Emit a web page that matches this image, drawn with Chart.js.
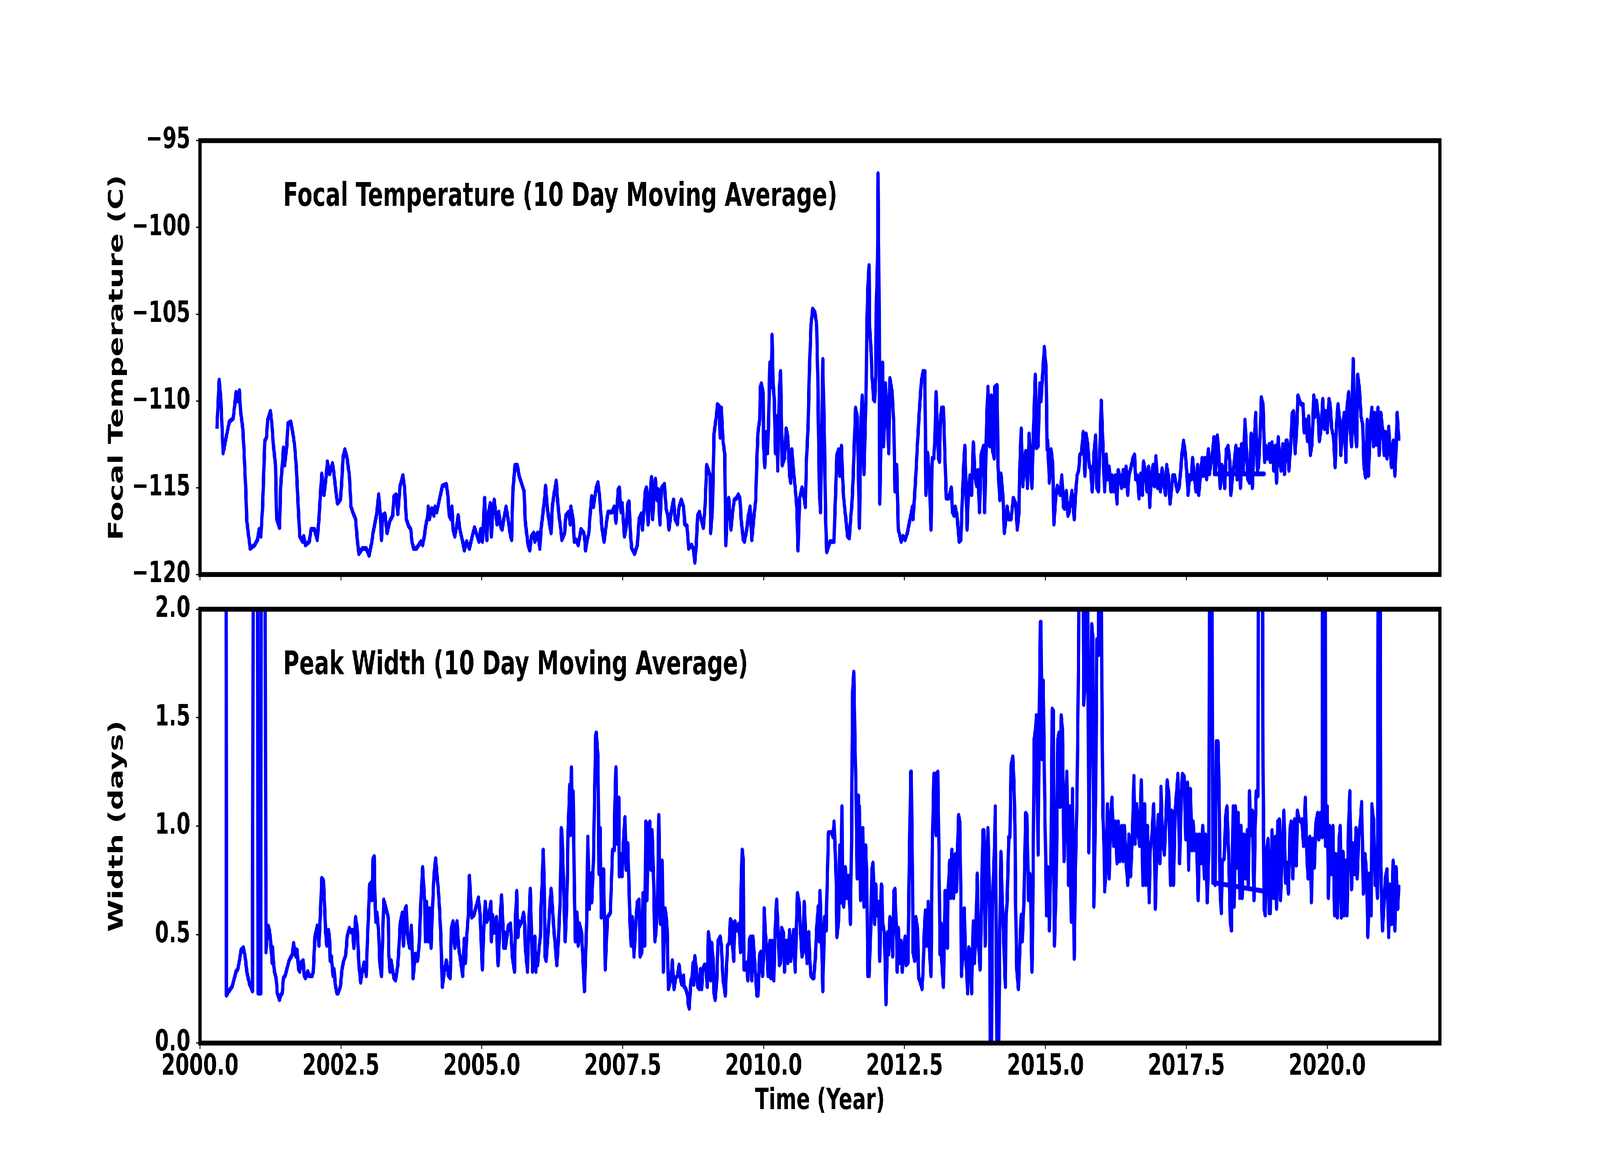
<!DOCTYPE html>
<html>
<head>
<meta charset="utf-8">
<script src="https://cdn.jsdelivr.net/npm/chart.js@4.4.0/dist/chart.umd.min.js"></script>
<style>
html, body { margin: 0; padding: 0; background: #fff; overflow: hidden; width: 100%; height: 100%; }
#wrap { position: absolute; left: 0; top: 0; width: 6000px; height: 3000px; transform-origin: 0 0; }
#wrap canvas { position: absolute; left: 0; top: 0; }
</style>
</head>
<body>
<div id="wrap">
<canvas id="topPanel" width="6000" height="3000"></canvas>
<canvas id="bottomPanel" width="6000" height="3000"></canvas>
</div>
<script>
// the figure is laid out on a 6000x3000 sheet; stretch it over the real viewport
var sx = window.innerWidth / 6000, sy = window.innerHeight / 3000;
document.getElementById('wrap').style.transform = 'scale(' + sx + ',' + sy + ')';

// x axis ticks (shared)
var xTicks = [2000, 2002.5, 2005, 2007.5, 2010, 2012.5, 2015, 2017.5, 2020];
var xTickLabels = ['2000.0', '2002.5', '2005.0', '2007.5', '2010.0', '2012.5', '2015.0', '2017.5', '2020.0'];

var tempTicks = [-120, -115, -110, -105, -100, -95];
var tempTickLabels = ['\u2212120', '\u2212115', '\u2212110', '\u2212105', '\u2212100', '\u221295'];

var widthTicks = [0, 0.5, 1.0, 1.5, 2.0];
var widthTickLabels = ['0.0', '0.5', '1.0', '1.5', '2.0'];

// focal temperature, [year, C]
var focalTemp = [
[2000.30,-111.6],[2000.34,-108.8],[2000.37,-109.9],[2000.41,-113.0],[2000.47,-112.0],[2000.52,-111.2],[2000.59,-111.0],[2000.64,-109.5],[2000.67,-110.0],[2000.70,-109.4],
[2000.72,-110.6],[2000.76,-111.6],[2000.78,-112.8],[2000.81,-115.0],[2000.83,-116.9],[2000.89,-118.5],[2000.97,-118.3],[2001.02,-118.0],[2001.05,-117.4],[2001.08,-117.8],
[2001.11,-116.1],[2001.15,-112.3],[2001.18,-112.1],[2001.20,-111.1],[2001.25,-110.6],[2001.28,-111.5],[2001.30,-112.5],[2001.34,-113.7],[2001.36,-116.8],[2001.41,-117.3],
[2001.43,-115.0],[2001.46,-113.7],[2001.48,-112.7],[2001.50,-113.7],[2001.54,-112.6],[2001.56,-111.3],[2001.61,-111.2],[2001.65,-111.9],[2001.68,-112.6],[2001.71,-113.9],
[2001.74,-115.9],[2001.77,-117.8],[2001.82,-118.1],[2001.84,-117.8],[2001.87,-118.3],[2001.94,-118.1],[2001.97,-117.4],[2002.03,-117.4],[2002.08,-118.0],[2002.11,-116.8],
[2002.16,-114.2],[2002.20,-115.4],[2002.24,-114.3],[2002.26,-113.5],[2002.30,-114.2],[2002.35,-113.6],[2002.37,-114.0],[2002.41,-115.2],[2002.44,-115.9],[2002.49,-115.7],
[2002.51,-114.9],[2002.54,-113.2],[2002.57,-112.8],[2002.61,-113.3],[2002.65,-114.3],[2002.68,-116.1],[2002.71,-116.4],[2002.76,-116.8],[2002.79,-118.0],[2002.82,-118.8],
[2002.88,-118.5],[2002.95,-118.5],[2003.00,-118.9],[2003.05,-118.1],[2003.07,-117.6],[2003.10,-117.1],[2003.13,-116.6],[2003.17,-115.4],[2003.20,-116.6],[2003.22,-118.0],
[2003.24,-116.6],[2003.28,-116.5],[2003.32,-117.6],[2003.37,-116.9],[2003.42,-116.6],[2003.44,-115.5],[2003.48,-115.4],[2003.51,-116.5],[2003.55,-114.9],[2003.60,-114.3],
[2003.63,-115.0],[2003.66,-116.8],[2003.70,-117.2],[2003.74,-117.4],[2003.76,-118.1],[2003.79,-118.5],[2003.84,-118.5],[2003.92,-118.1],[2003.95,-118.3],[2003.98,-117.8],
[2004.00,-117.3],[2004.04,-116.6],[2004.05,-116.1],[2004.07,-116.8],[2004.11,-116.2],[2004.15,-116.6],[2004.17,-116.1],[2004.20,-116.4],[2004.30,-114.9],[2004.37,-114.8],
[2004.40,-115.5],[2004.42,-116.6],[2004.45,-116.8],[2004.47,-116.1],[2004.49,-117.4],[2004.52,-117.8],[2004.55,-117.3],[2004.58,-116.6],[2004.61,-117.4],[2004.66,-118.1],
[2004.69,-118.6],[2004.73,-118.1],[2004.78,-118.5],[2004.83,-117.8],[2004.87,-117.3],[2004.90,-117.6],[2004.95,-118.1],[2004.98,-117.4],[2005.01,-118.1],[2005.05,-115.6],
[2005.07,-117.3],[2005.09,-118.0],[2005.11,-116.6],[2005.15,-115.9],[2005.17,-117.8],[2005.19,-116.6],[2005.22,-115.7],[2005.27,-117.1],[2005.30,-116.4],[2005.34,-117.3],
[2005.36,-117.4],[2005.39,-116.8],[2005.43,-116.1],[2005.48,-117.1],[2005.51,-117.8],[2005.53,-118.0],[2005.55,-115.2],[2005.59,-113.7],[2005.63,-113.7],[2005.66,-114.3],
[2005.75,-115.2],[2005.77,-116.9],[2005.82,-118.3],[2005.85,-118.6],[2005.88,-117.8],[2005.92,-117.6],[2005.94,-118.1],[2005.99,-117.6],[2006.03,-118.5],[2006.05,-117.4],
[2006.08,-116.6],[2006.12,-115.4],[2006.13,-114.9],[2006.16,-116.1],[2006.20,-117.1],[2006.23,-117.6],[2006.25,-116.1],[2006.28,-115.4],[2006.32,-114.6],[2006.34,-115.6],
[2006.37,-116.6],[2006.40,-117.4],[2006.42,-118.0],[2006.47,-117.6],[2006.49,-116.6],[2006.54,-116.4],[2006.57,-117.1],[2006.58,-116.1],[2006.62,-116.8],[2006.64,-118.1],
[2006.67,-118.0],[2006.71,-118.3],[2006.76,-117.4],[2006.81,-117.6],[2006.83,-118.1],[2006.84,-118.6],[2006.87,-118.0],[2006.90,-117.6],[2006.92,-116.6],[2006.95,-115.5],
[2006.98,-116.1],[2007.03,-115.0],[2007.06,-114.7],[2007.09,-115.5],[2007.13,-117.3],[2007.17,-118.1],[2007.19,-117.6],[2007.22,-116.8],[2007.24,-116.4],[2007.31,-116.4],
[2007.35,-116.1],[2007.38,-117.0],[2007.42,-115.1],[2007.44,-115.0],[2007.47,-116.4],[2007.49,-115.9],[2007.53,-117.8],[2007.56,-117.3],[2007.59,-115.9],[2007.61,-115.8],
[2007.64,-117.8],[2007.66,-118.5],[2007.71,-118.8],[2007.76,-118.3],[2007.79,-116.8],[2007.83,-116.5],[2007.85,-117.4],[2007.90,-115.2],[2007.92,-115.0],[2007.95,-117.1],
[2007.98,-115.6],[2008.01,-114.4],[2008.03,-116.8],[2008.06,-115.2],[2008.08,-114.5],[2008.11,-115.7],[2008.13,-115.1],[2008.16,-117.1],[2008.19,-115.0],[2008.24,-114.8],
[2008.27,-116.2],[2008.30,-116.6],[2008.32,-117.4],[2008.36,-116.4],[2008.40,-115.7],[2008.43,-116.8],[2008.47,-117.1],[2008.50,-116.1],[2008.54,-115.7],[2008.58,-116.1],
[2008.60,-117.1],[2008.64,-117.2],[2008.67,-118.5],[2008.72,-118.3],[2008.75,-118.5],[2008.78,-119.3],[2008.80,-118.5],[2008.83,-116.6],[2008.86,-116.4],[2008.89,-116.8],
[2008.93,-117.3],[2008.96,-116.1],[2008.99,-113.7],[2009.02,-114.0],[2009.05,-114.3],[2009.06,-117.6],[2009.09,-116.4],[2009.12,-111.9],[2009.16,-110.9],[2009.18,-110.2],
[2009.21,-110.3],[2009.23,-112.1],[2009.25,-110.4],[2009.28,-112.3],[2009.31,-113.1],[2009.33,-118.3],[2009.36,-115.9],[2009.38,-115.6],[2009.42,-117.4],[2009.45,-116.4],
[2009.48,-115.7],[2009.52,-115.6],[2009.55,-115.4],[2009.58,-115.6],[2009.60,-116.8],[2009.64,-118.0],[2009.66,-118.1],[2009.70,-117.4],[2009.73,-116.6],[2009.76,-116.1],
[2009.79,-118.0],[2009.83,-116.6],[2009.86,-115.7],[2009.88,-113.3],[2009.90,-111.8],[2009.93,-111.1],[2009.94,-109.2],[2009.96,-109.0],[2009.99,-109.5],[2010.00,-112.6],
[2010.02,-113.8],[2010.05,-111.8],[2010.07,-113.0],[2010.09,-110.9],[2010.11,-107.8],[2010.13,-109.2],[2010.15,-106.2],[2010.17,-109.1],[2010.19,-110.0],[2010.21,-113.0],
[2010.23,-110.9],[2010.25,-114.0],[2010.27,-110.7],[2010.28,-109.3],[2010.30,-108.3],[2010.33,-113.7],[2010.37,-113.3],[2010.40,-111.6],[2010.43,-112.1],[2010.46,-114.3],
[2010.48,-114.7],[2010.50,-112.8],[2010.53,-114.0],[2010.56,-115.0],[2010.59,-116.2],[2010.61,-118.6],[2010.64,-115.6],[2010.68,-115.0],[2010.71,-115.4],[2010.74,-116.1],
[2010.76,-113.4],[2010.79,-111.3],[2010.81,-108.5],[2010.84,-105.6],[2010.87,-104.7],[2010.91,-104.9],[2010.94,-105.6],[2010.96,-108.5],[2010.97,-111.1],[2010.99,-115.2],
[2011.01,-116.4],[2011.03,-111.6],[2011.05,-107.6],[2011.08,-112.6],[2011.10,-116.8],[2011.12,-118.7],[2011.18,-118.1],[2011.25,-118.1],[2011.26,-116.8],[2011.28,-115.0],
[2011.30,-113.1],[2011.33,-112.8],[2011.35,-114.3],[2011.38,-112.6],[2011.40,-114.3],[2011.42,-115.6],[2011.49,-117.8],[2011.52,-117.9],[2011.57,-115.7],[2011.59,-114.3],
[2011.63,-110.4],[2011.66,-110.9],[2011.68,-113.8],[2011.70,-117.3],[2011.73,-110.9],[2011.75,-109.7],[2011.78,-114.2],[2011.80,-111.8],[2011.82,-109.2],[2011.83,-105.7],
[2011.85,-103.4],[2011.87,-102.2],[2011.88,-105.7],[2011.91,-107.3],[2011.92,-108.5],[2011.94,-109.3],[2011.95,-109.9],[2011.97,-110.0],[2011.99,-108.5],[2012.00,-104.3],
[2012.02,-101.8],[2012.03,-96.9],[2012.05,-104.7],[2012.06,-115.9],[2012.08,-112.6],[2012.11,-107.8],[2012.13,-112.6],[2012.16,-109.0],[2012.19,-110.9],[2012.22,-113.0],
[2012.24,-108.7],[2012.28,-109.5],[2012.31,-111.4],[2012.33,-115.2],[2012.36,-113.7],[2012.39,-117.4],[2012.44,-118.1],[2012.47,-117.8],[2012.51,-118.0],[2012.55,-117.6],
[2012.58,-117.1],[2012.61,-116.6],[2012.64,-116.1],[2012.65,-116.8],[2012.68,-115.4],[2012.70,-114.3],[2012.73,-112.4],[2012.76,-110.7],[2012.80,-108.8],[2012.83,-108.3],
[2012.86,-108.3],[2012.88,-115.4],[2012.91,-113.0],[2012.94,-114.3],[2012.97,-117.4],[2012.99,-113.3],[2013.02,-113.3],[2013.04,-112.1],[2013.06,-109.5],[2013.10,-113.3],
[2013.12,-113.5],[2013.14,-110.9],[2013.16,-110.4],[2013.19,-110.4],[2013.22,-113.5],[2013.24,-115.6],[2013.28,-115.6],[2013.33,-115.0],[2013.35,-116.4],[2013.38,-116.6],
[2013.40,-116.1],[2013.43,-116.6],[2013.47,-118.1],[2013.50,-118.0],[2013.52,-116.1],[2013.55,-113.7],[2013.57,-112.6],[2013.61,-117.4],[2013.63,-115.6],[2013.66,-114.3],
[2013.69,-115.4],[2013.72,-112.4],[2013.75,-114.3],[2013.78,-114.9],[2013.80,-114.0],[2013.83,-116.4],[2013.86,-113.1],[2013.90,-112.6],[2013.92,-116.4],[2013.96,-110.9],
[2013.98,-109.2],[2014.01,-112.6],[2014.04,-109.7],[2014.06,-112.8],[2014.09,-113.3],[2014.10,-109.2],[2014.14,-109.1],[2014.16,-113.8],[2014.19,-115.7],[2014.21,-114.2],
[2014.25,-115.7],[2014.27,-117.6],[2014.30,-116.8],[2014.32,-116.1],[2014.35,-116.8],[2014.39,-116.8],[2014.43,-115.6],[2014.47,-115.9],[2014.50,-117.4],[2014.53,-116.4],
[2014.54,-114.5],[2014.57,-111.6],[2014.60,-114.9],[2014.63,-113.5],[2014.65,-112.9],[2014.68,-115.0],[2014.71,-111.9],[2014.73,-113.0],[2014.76,-115.0],[2014.79,-111.4],
[2014.82,-108.5],[2014.84,-112.7],[2014.87,-112.6],[2014.90,-109.0],[2014.92,-110.0],[2014.95,-108.5],[2014.98,-106.9],[2015.01,-108.1],[2015.03,-112.8],[2015.04,-112.3],
[2015.07,-114.7],[2015.10,-112.8],[2015.13,-113.7],[2015.15,-117.1],[2015.18,-115.7],[2015.21,-114.9],[2015.26,-115.4],[2015.29,-114.3],[2015.32,-116.1],[2015.34,-116.2],
[2015.37,-115.2],[2015.40,-116.6],[2015.42,-116.4],[2015.47,-115.2],[2015.51,-116.8],[2015.53,-115.6],[2015.56,-114.3],[2015.59,-114.0],[2015.61,-113.1],[2015.64,-113.0],
[2015.67,-111.8],[2015.70,-114.3],[2015.72,-111.9],[2015.75,-112.5],[2015.78,-113.8],[2015.80,-113.8],[2015.83,-115.2],[2015.86,-113.0],[2015.89,-112.0],[2015.91,-115.0],
[2015.94,-115.2],[2015.97,-112.3],[2015.99,-110.0],[2016.02,-112.6],[2016.05,-115.2],[2016.08,-113.1],[2016.10,-114.5],[2016.13,-113.8],[2016.16,-115.2],[2016.18,-114.3],
[2016.21,-115.2],[2016.24,-114.3],[2016.27,-115.9],[2016.29,-114.0],[2016.32,-114.3],[2016.35,-115.0],[2016.38,-114.0],[2016.40,-114.9],[2016.43,-113.8],[2016.46,-115.4],
[2016.48,-114.3],[2016.52,-113.8],[2016.55,-113.3],[2016.58,-113.1],[2016.60,-114.5],[2016.63,-114.3],[2016.66,-115.6],[2016.69,-114.2],[2016.72,-115.4],[2016.74,-113.5],
[2016.77,-114.0],[2016.80,-115.2],[2016.83,-113.8],[2016.85,-116.1],[2016.88,-114.3],[2016.91,-113.7],[2016.93,-114.9],[2016.96,-113.2],[2016.99,-115.0],[2017.02,-114.3],
[2017.04,-115.2],[2017.07,-113.9],[2017.10,-114.7],[2017.13,-115.4],[2017.15,-113.7],[2017.18,-114.3],[2017.21,-115.9],[2017.23,-115.3],[2017.26,-114.3],[2017.29,-114.3],
[2017.32,-114.9],[2017.34,-115.2],[2017.37,-115.0],[2017.40,-114.0],[2017.42,-113.1],[2017.45,-112.3],[2017.48,-113.0],[2017.51,-114.2],[2017.53,-115.4],[2017.56,-114.3],
[2017.59,-114.5],[2017.61,-113.3],[2017.64,-114.3],[2017.67,-115.2],[2017.70,-113.7],[2017.72,-115.4],[2017.75,-114.3],[2017.78,-113.3],[2017.80,-114.3],[2017.83,-113.3],
[2017.86,-114.5],[2017.89,-112.8],[2017.91,-114.2],[2017.94,-113.5],[2017.97,-112.8],[2017.99,-112.1],[2018.00,-114.2],[2018.88,-114.2],[2018.00,-114.2],[2018.02,-114.0],
[2018.05,-112.0],[2018.08,-113.3],[2018.10,-115.0],[2018.13,-113.7],[2018.16,-114.2],[2018.18,-115.0],[2018.21,-112.8],[2018.24,-112.6],[2018.27,-113.5],[2018.29,-115.4],
[2018.32,-114.3],[2018.35,-113.5],[2018.38,-112.6],[2018.40,-114.5],[2018.43,-112.8],[2018.46,-115.0],[2018.48,-112.5],[2018.51,-114.0],[2018.54,-111.1],[2018.57,-113.1],
[2018.59,-114.5],[2018.62,-114.7],[2018.65,-111.9],[2018.67,-115.0],[2018.70,-112.5],[2018.73,-110.7],[2018.76,-114.0],[2018.78,-113.8],[2018.81,-111.8],[2018.83,-109.8],
[2018.86,-110.2],[2018.89,-113.5],[2018.91,-112.6],[2018.94,-113.3],[2018.97,-112.5],[2018.99,-113.5],[2019.02,-112.4],[2019.05,-114.0],[2019.08,-112.6],[2019.10,-114.7],
[2019.13,-112.1],[2019.16,-113.5],[2019.18,-114.0],[2019.21,-112.5],[2019.24,-114.2],[2019.27,-112.3],[2019.29,-112.3],[2019.32,-114.0],[2019.35,-112.6],[2019.38,-110.7],
[2019.40,-110.6],[2019.43,-113.0],[2019.46,-111.4],[2019.48,-109.7],[2019.51,-110.0],[2019.54,-110.2],[2019.57,-110.2],[2019.59,-111.8],[2019.62,-111.1],[2019.65,-112.3],
[2019.67,-110.9],[2019.70,-113.1],[2019.73,-112.5],[2019.76,-109.7],[2019.78,-110.9],[2019.81,-110.0],[2019.84,-110.9],[2019.86,-112.3],[2019.89,-111.6],[2019.92,-109.9],
[2019.95,-111.6],[2019.97,-110.6],[2020.00,-111.8],[2020.03,-109.9],[2020.05,-110.2],[2020.08,-111.6],[2020.11,-112.1],[2020.14,-113.8],[2020.16,-111.6],[2020.19,-110.2],
[2020.22,-111.1],[2020.24,-113.1],[2020.27,-111.6],[2020.30,-110.7],[2020.33,-113.5],[2020.35,-110.4],[2020.38,-109.5],[2020.41,-111.8],[2020.43,-112.6],[2020.46,-107.6],
[2020.49,-111.6],[2020.52,-112.6],[2020.54,-108.5],[2020.57,-109.3],[2020.60,-110.9],[2020.63,-111.4],[2020.65,-113.7],[2020.68,-114.4],[2020.71,-111.1],[2020.73,-114.3],
[2020.76,-111.8],[2020.79,-110.4],[2020.82,-112.6],[2020.84,-110.7],[2020.87,-112.5],[2020.90,-110.4],[2020.92,-113.1],[2020.95,-110.7],[2020.98,-111.6],[2021.01,-113.1],
[2021.03,-111.8],[2021.06,-113.3],[2021.09,-111.5],[2021.11,-112.6],[2021.14,-113.8],[2021.17,-112.3],[2021.20,-114.3],[2021.22,-112.8],[2021.24,-110.7],[2021.27,-112.3]
];

// peak width, [year, days]
var peakWidth = [
[2000.46,3.0],[2000.47,0.22],[2000.49,0.23],[2000.54,0.25],[2000.57,0.26],[2000.60,0.29],[2000.64,0.33],[2000.67,0.34],[2000.70,0.38],[2000.73,0.43],
[2000.77,0.44],[2000.80,0.40],[2000.83,0.33],[2000.88,0.27],[2000.90,0.26],[2000.93,0.24],[2000.95,3.0],[2001.02,3.0],[2001.03,0.23],[2001.08,0.23],
[2001.09,3.0],[2001.15,3.0],[2001.17,0.42],[2001.21,0.54],[2001.23,0.52],[2001.25,0.48],[2001.28,0.37],[2001.29,0.44],[2001.30,0.38],[2001.32,0.33],
[2001.35,0.30],[2001.36,0.27],[2001.37,0.23],[2001.41,0.20],[2001.43,0.22],[2001.46,0.23],[2001.48,0.30],[2001.51,0.31],[2001.55,0.35],[2001.58,0.38],
[2001.62,0.40],[2001.64,0.41],[2001.66,0.46],[2001.68,0.43],[2001.70,0.40],[2001.72,0.43],[2001.75,0.34],[2001.77,0.33],[2001.79,0.37],[2001.83,0.38],
[2001.85,0.31],[2001.87,0.30],[2001.89,0.31],[2001.91,0.33],[2001.94,0.31],[2001.99,0.31],[2002.01,0.33],[2002.03,0.44],[2002.04,0.49],[2002.08,0.54],
[2002.11,0.45],[2002.14,0.62],[2002.16,0.76],[2002.19,0.75],[2002.21,0.63],[2002.23,0.51],[2002.25,0.45],[2002.28,0.52],[2002.30,0.47],[2002.31,0.38],
[2002.33,0.40],[2002.36,0.31],[2002.38,0.34],[2002.40,0.27],[2002.43,0.23],[2002.45,0.23],[2002.49,0.26],[2002.52,0.34],[2002.55,0.38],[2002.58,0.40],
[2002.60,0.45],[2002.61,0.49],[2002.65,0.53],[2002.67,0.52],[2002.69,0.51],[2002.71,0.52],[2002.73,0.44],[2002.76,0.58],[2002.79,0.52],[2002.82,0.36],
[2002.85,0.28],[2002.88,0.33],[2002.91,0.37],[2002.95,0.31],[2002.97,0.47],[2003.01,0.73],[2003.04,0.74],[2003.05,0.66],[2003.07,0.85],[2003.09,0.86],
[2003.10,0.71],[2003.12,0.56],[2003.14,0.60],[2003.17,0.51],[2003.19,0.37],[2003.22,0.31],[2003.24,0.48],[2003.26,0.66],[2003.30,0.62],[2003.34,0.58],
[2003.35,0.41],[2003.37,0.33],[2003.39,0.38],[2003.44,0.30],[2003.47,0.29],[2003.51,0.36],[2003.53,0.44],[2003.55,0.55],[2003.59,0.60],[2003.61,0.45],
[2003.64,0.62],[2003.66,0.63],[2003.68,0.50],[2003.72,0.44],[2003.75,0.54],[2003.77,0.41],[2003.78,0.30],[2003.82,0.41],[2003.86,0.38],[2003.89,0.46],
[2003.92,0.66],[2003.95,0.81],[2003.99,0.63],[2004.00,0.47],[2004.02,0.65],[2004.05,0.47],[2004.07,0.62],[2004.10,0.44],[2004.12,0.59],[2004.15,0.77],
[2004.18,0.85],[2004.23,0.70],[2004.25,0.62],[2004.27,0.51],[2004.30,0.26],[2004.34,0.34],[2004.37,0.38],[2004.41,0.31],[2004.44,0.30],[2004.46,0.53],
[2004.49,0.56],[2004.52,0.44],[2004.56,0.56],[2004.59,0.44],[2004.66,0.31],[2004.69,0.48],[2004.71,0.37],[2004.73,0.48],[2004.76,0.59],[2004.78,0.77],
[2004.82,0.58],[2004.86,0.59],[2004.94,0.67],[2004.97,0.59],[2005.01,0.34],[2005.03,0.49],[2005.06,0.65],[2005.09,0.56],[2005.12,0.58],[2005.16,0.65],
[2005.17,0.47],[2005.19,0.59],[2005.22,0.51],[2005.25,0.55],[2005.26,0.58],[2005.28,0.40],[2005.29,0.36],[2005.31,0.47],[2005.33,0.60],[2005.35,0.68],
[2005.38,0.51],[2005.39,0.44],[2005.40,0.51],[2005.42,0.44],[2005.44,0.48],[2005.47,0.54],[2005.51,0.55],[2005.54,0.40],[2005.58,0.33],[2005.60,0.59],
[2005.62,0.70],[2005.64,0.49],[2005.66,0.56],[2005.67,0.54],[2005.71,0.56],[2005.74,0.60],[2005.76,0.55],[2005.77,0.45],[2005.81,0.33],[2005.83,0.52],
[2005.86,0.71],[2005.88,0.52],[2005.90,0.33],[2005.94,0.49],[2005.96,0.33],[2005.97,0.41],[2005.99,0.36],[2006.02,0.45],[2006.04,0.49],[2006.05,0.63],
[2006.07,0.73],[2006.09,0.89],[2006.11,0.71],[2006.12,0.40],[2006.14,0.38],[2006.18,0.52],[2006.21,0.65],[2006.23,0.71],[2006.28,0.52],[2006.33,0.36],
[2006.36,0.48],[2006.39,0.66],[2006.41,0.99],[2006.42,0.98],[2006.44,0.82],[2006.48,0.47],[2006.50,0.59],[2006.52,0.78],[2006.53,0.98],[2006.55,1.11],
[2006.56,1.19],[2006.57,0.96],[2006.59,1.27],[2006.60,1.00],[2006.62,1.16],[2006.64,0.74],[2006.66,0.47],[2006.69,0.60],[2006.71,0.45],[2006.73,0.55],
[2006.77,0.51],[2006.82,0.24],[2006.86,0.55],[2006.88,0.95],[2006.91,0.62],[2006.93,0.78],[2006.95,0.65],[2006.98,0.84],[2007.02,1.42],[2007.03,1.43],
[2007.06,1.32],[2007.08,0.78],[2007.10,0.99],[2007.12,0.58],[2007.14,0.65],[2007.16,0.80],[2007.19,0.34],[2007.23,0.58],[2007.28,0.60],[2007.32,0.89],
[2007.35,0.89],[2007.36,1.08],[2007.38,1.27],[2007.40,0.92],[2007.43,1.13],[2007.44,0.77],[2007.47,0.87],[2007.49,0.77],[2007.51,0.92],[2007.54,1.04],
[2007.56,0.80],[2007.59,0.92],[2007.61,0.73],[2007.63,0.55],[2007.65,0.45],[2007.67,0.58],[2007.70,0.40],[2007.73,0.55],[2007.76,0.65],[2007.79,0.66],
[2007.81,0.40],[2007.84,0.42],[2007.86,0.69],[2007.89,0.45],[2007.91,1.02],[2007.93,0.66],[2007.95,1.00],[2007.98,1.02],[2008.00,0.80],[2008.02,0.98],
[2008.05,0.74],[2008.07,0.47],[2008.09,0.51],[2008.12,0.67],[2008.14,1.05],[2008.17,0.55],[2008.19,0.73],[2008.20,0.84],[2008.22,0.33],[2008.25,0.62],
[2008.27,0.59],[2008.29,0.52],[2008.31,0.25],[2008.33,0.27],[2008.36,0.31],[2008.38,0.38],[2008.41,0.25],[2008.44,0.30],[2008.47,0.31],[2008.50,0.36],
[2008.53,0.29],[2008.55,0.27],[2008.58,0.31],[2008.59,0.26],[2008.62,0.25],[2008.65,0.22],[2008.66,0.18],[2008.68,0.16],[2008.71,0.29],[2008.73,0.30],
[2008.75,0.37],[2008.76,0.27],[2008.78,0.40],[2008.81,0.33],[2008.83,0.26],[2008.86,0.25],[2008.88,0.34],[2008.90,0.25],[2008.92,0.34],[2008.95,0.36],
[2008.97,0.36],[2009.00,0.26],[2009.02,0.51],[2009.04,0.47],[2009.06,0.29],[2009.08,0.46],[2009.11,0.36],[2009.12,0.23],[2009.14,0.20],[2009.17,0.29],
[2009.19,0.47],[2009.23,0.49],[2009.25,0.45],[2009.28,0.29],[2009.30,0.26],[2009.32,0.22],[2009.34,0.34],[2009.36,0.45],[2009.39,0.46],[2009.41,0.57],
[2009.43,0.56],[2009.45,0.44],[2009.47,0.38],[2009.49,0.56],[2009.53,0.52],[2009.56,0.55],[2009.58,0.47],[2009.59,0.42],[2009.60,0.71],[2009.62,0.89],
[2009.64,0.84],[2009.65,0.34],[2009.68,0.34],[2009.70,0.37],[2009.72,0.29],[2009.75,0.48],[2009.77,0.49],[2009.79,0.29],[2009.81,0.49],[2009.83,0.42],
[2009.86,0.30],[2009.88,0.22],[2009.90,0.22],[2009.93,0.41],[2009.95,0.42],[2009.98,0.31],[2010.00,0.41],[2010.01,0.62],[2010.03,0.51],[2010.06,0.42],
[2010.08,0.31],[2010.11,0.47],[2010.13,0.30],[2010.15,0.47],[2010.18,0.29],[2010.20,0.48],[2010.23,0.66],[2010.25,0.56],[2010.28,0.36],[2010.30,0.37],
[2010.32,0.53],[2010.35,0.51],[2010.37,0.33],[2010.40,0.47],[2010.42,0.47],[2010.43,0.37],[2010.46,0.52],[2010.48,0.38],[2010.51,0.45],[2010.53,0.52],
[2010.56,0.33],[2010.58,0.52],[2010.60,0.69],[2010.63,0.65],[2010.65,0.53],[2010.68,0.40],[2010.70,0.42],[2010.72,0.65],[2010.75,0.48],[2010.77,0.37],
[2010.80,0.51],[2010.82,0.38],[2010.84,0.31],[2010.87,0.30],[2010.89,0.30],[2010.92,0.40],[2010.94,0.53],[2010.97,0.63],[2010.99,0.47],[2011.00,0.70],
[2011.03,0.45],[2011.05,0.24],[2011.08,0.58],[2011.11,0.52],[2011.12,0.66],[2011.15,0.97],[2011.21,0.97],[2011.23,0.95],[2011.25,1.02],[2011.27,0.88],
[2011.29,0.73],[2011.30,0.49],[2011.33,0.56],[2011.35,0.91],[2011.37,0.65],[2011.39,1.09],[2011.40,0.66],[2011.42,0.63],[2011.45,0.81],[2011.47,0.67],
[2011.50,0.77],[2011.52,0.67],[2011.54,0.55],[2011.56,0.94],[2011.57,1.34],[2011.58,1.62],[2011.60,1.71],[2011.62,1.40],[2011.64,1.14],[2011.66,0.76],
[2011.68,1.14],[2011.69,1.00],[2011.70,1.09],[2011.72,0.66],[2011.75,0.92],[2011.76,0.99],[2011.78,0.63],[2011.80,0.89],[2011.81,0.91],[2011.83,0.77],
[2011.85,0.31],[2011.87,0.31],[2011.90,0.52],[2011.92,0.80],[2011.94,0.83],[2011.97,0.55],[2011.99,0.73],[2012.01,0.59],[2012.04,0.65],[2012.06,0.38],
[2012.08,0.63],[2012.09,0.73],[2012.10,0.72],[2012.11,0.56],[2012.14,0.51],[2012.16,0.34],[2012.17,0.18],[2012.20,0.51],[2012.22,0.41],[2012.24,0.58],
[2012.27,0.52],[2012.29,0.40],[2012.31,0.70],[2012.33,0.71],[2012.36,0.48],[2012.37,0.33],[2012.39,0.53],[2012.41,0.37],[2012.44,0.47],[2012.46,0.33],
[2012.48,0.41],[2012.51,0.49],[2012.53,0.36],[2012.56,0.37],[2012.58,0.74],[2012.61,1.25],[2012.62,1.25],[2012.64,0.82],[2012.65,0.42],[2012.68,0.38],
[2012.70,0.58],[2012.73,0.53],[2012.75,0.30],[2012.77,0.29],[2012.81,0.25],[2012.83,0.34],[2012.85,0.51],[2012.87,0.61],[2012.89,0.45],[2012.92,0.65],
[2012.94,0.44],[2012.97,0.31],[2012.99,0.87],[2013.02,1.24],[2013.04,1.24],[2013.06,0.96],[2013.07,1.24],[2013.09,1.25],[2013.11,0.89],[2013.13,0.41],
[2013.15,0.55],[2013.16,0.38],[2013.19,0.26],[2013.22,0.70],[2013.23,0.67],[2013.26,0.44],[2013.27,0.67],[2013.30,0.84],[2013.32,0.67],[2013.34,0.89],
[2013.37,0.67],[2013.40,0.87],[2013.42,0.70],[2013.44,0.89],[2013.46,1.05],[2013.48,1.02],[2013.50,0.66],[2013.51,0.31],[2013.54,0.44],[2013.56,0.62],
[2013.58,0.41],[2013.60,0.34],[2013.62,0.23],[2013.64,0.44],[2013.67,0.42],[2013.69,0.23],[2013.72,0.56],[2013.74,0.37],[2013.77,0.56],[2013.79,0.78],
[2013.81,0.47],[2013.84,0.34],[2013.86,0.56],[2013.89,0.98],[2013.91,0.98],[2013.93,0.45],[2013.96,0.84],[2013.98,0.99],[2014.01,0.66],[2014.02,-0.1],
[2014.04,-0.1],[2014.06,0.64],[2014.10,0.94],[2014.11,1.09],[2014.13,0.31],[2014.14,-0.1],[2014.17,-0.1],[2014.19,0.52],[2014.21,0.88],[2014.23,0.67],
[2014.25,0.56],[2014.28,0.31],[2014.29,0.26],[2014.30,0.56],[2014.32,0.66],[2014.35,0.95],[2014.37,0.95],[2014.39,1.28],[2014.42,1.32],[2014.44,1.20],
[2014.46,1.00],[2014.47,0.66],[2014.49,0.34],[2014.52,0.25],[2014.54,0.40],[2014.57,0.59],[2014.59,0.47],[2014.62,0.67],[2014.65,1.06],[2014.67,1.05],
[2014.70,0.66],[2014.72,0.78],[2014.74,0.66],[2014.76,0.33],[2014.77,0.45],[2014.79,1.07],[2014.80,1.40],[2014.83,1.46],[2014.84,1.51],[2014.87,0.87],
[2014.89,1.50],[2014.91,1.94],[2014.92,1.94],[2014.94,1.31],[2014.96,1.67],[2014.99,1.07],[2015.02,0.59],[2015.04,0.81],[2015.07,0.52],[2015.10,0.89],
[2015.12,1.54],[2015.14,1.53],[2015.16,0.45],[2015.19,0.73],[2015.22,1.40],[2015.24,1.43],[2015.26,1.09],[2015.28,1.51],[2015.30,1.45],[2015.33,0.84],
[2015.35,1.03],[2015.38,1.25],[2015.41,0.73],[2015.43,1.09],[2015.46,0.56],[2015.48,1.17],[2015.51,0.39],[2015.53,0.78],[2015.56,1.14],[2015.59,1.83],
[2015.61,3.0],[2015.65,3.0],[2015.68,1.56],[2015.71,1.72],[2015.73,3.0],[2015.77,0.88],[2015.82,1.93],[2015.84,1.87],[2015.86,0.63],[2015.89,1.11],
[2015.91,1.86],[2015.94,1.79],[2015.96,3.0],[2015.98,3.0],[2016.00,1.63],[2016.02,1.06],[2016.04,0.91],[2016.05,0.70],[2016.08,0.83],[2016.10,1.10],
[2016.13,0.76],[2016.16,1.06],[2016.18,1.13],[2016.21,0.91],[2016.24,1.02],[2016.27,0.83],[2016.29,1.02],[2016.32,0.84],[2016.35,1.00],[2016.38,0.84],
[2016.40,1.00],[2016.43,0.84],[2016.46,0.73],[2016.48,0.96],[2016.51,0.77],[2016.54,0.94],[2016.57,1.23],[2016.59,0.92],[2016.62,1.10],[2016.65,0.96],
[2016.67,0.91],[2016.70,1.21],[2016.73,0.73],[2016.76,1.10],[2016.78,0.73],[2016.81,1.00],[2016.84,0.65],[2016.86,0.89],[2016.89,0.96],[2016.92,1.10],
[2016.95,0.62],[2016.97,0.84],[2017.00,1.05],[2017.03,0.83],[2017.05,1.18],[2017.08,0.92],[2017.11,0.87],[2017.14,1.06],[2017.16,1.21],[2017.19,1.14],
[2017.22,0.73],[2017.24,1.07],[2017.27,0.73],[2017.30,1.06],[2017.33,1.17],[2017.35,1.24],[2017.38,0.83],[2017.41,1.14],[2017.43,1.24],[2017.46,1.23],
[2017.49,0.94],[2017.52,1.20],[2017.54,0.80],[2017.57,1.17],[2017.60,0.89],[2017.62,1.02],[2017.65,0.89],[2017.68,0.96],[2017.71,0.66],[2017.73,0.96],
[2017.76,0.83],[2017.79,1.00],[2017.82,0.76],[2017.84,0.96],[2017.87,0.65],[2017.90,0.91],[2017.92,3.0],[2017.95,3.0],[2017.97,0.74],[2018.88,0.70],
[2017.97,0.74],[2017.99,0.87],[2018.01,0.73],[2018.03,1.39],[2018.06,1.39],[2018.08,1.16],[2018.10,0.70],[2018.12,0.60],[2018.14,0.84],[2018.17,0.85],
[2018.20,1.05],[2018.22,1.09],[2018.25,0.88],[2018.28,0.56],[2018.30,0.52],[2018.33,1.09],[2018.35,0.63],[2018.37,1.09],[2018.40,0.81],[2018.42,1.06],
[2018.45,0.67],[2018.47,1.00],[2018.49,0.67],[2018.52,0.96],[2018.55,0.76],[2018.58,0.98],[2018.60,0.73],[2018.62,1.16],[2018.64,0.96],[2018.67,1.07],
[2018.70,0.66],[2018.72,0.98],[2018.74,1.16],[2018.77,1.14],[2018.78,3.0],[2018.84,3.0],[2018.86,1.28],[2018.88,0.62],[2018.90,0.59],[2018.92,0.88],
[2018.95,0.94],[2018.97,0.60],[2018.99,0.60],[2019.02,0.98],[2019.05,0.67],[2019.08,0.95],[2019.10,0.62],[2019.12,1.02],[2019.15,1.03],[2019.17,0.66],
[2019.20,0.87],[2019.23,1.07],[2019.26,0.74],[2019.28,0.83],[2019.31,0.69],[2019.34,0.99],[2019.36,1.02],[2019.39,0.76],[2019.42,1.03],[2019.45,0.82],
[2019.47,1.07],[2019.50,1.03],[2019.53,1.02],[2019.55,1.03],[2019.58,0.91],[2019.61,1.13],[2019.64,0.85],[2019.66,0.76],[2019.69,0.95],[2019.72,0.65],
[2019.74,0.94],[2019.77,0.81],[2019.80,1.02],[2019.83,1.06],[2019.85,0.94],[2019.88,1.06],[2019.91,0.95],[2019.92,3.0],[2019.96,3.0],[2019.97,0.91],
[2020.00,1.09],[2020.02,0.67],[2020.04,1.00],[2020.07,0.78],[2020.10,1.00],[2020.13,0.59],[2020.15,0.87],[2020.18,0.58],[2020.21,0.94],[2020.23,1.00],
[2020.25,0.58],[2020.28,0.88],[2020.30,0.59],[2020.33,0.84],[2020.35,0.59],[2020.38,1.02],[2020.40,1.16],[2020.43,0.71],[2020.45,0.92],[2020.48,0.78],
[2020.51,0.99],[2020.53,0.76],[2020.56,0.96],[2020.59,1.03],[2020.61,1.11],[2020.64,0.69],[2020.67,0.87],[2020.70,0.77],[2020.72,0.49],[2020.75,0.78],
[2020.78,0.59],[2020.79,1.10],[2020.82,1.03],[2020.85,0.73],[2020.87,0.80],[2020.89,0.67],[2020.91,3.0],[2020.93,3.0],[2020.95,0.81],[2020.98,0.52],
[2021.01,0.65],[2021.03,0.76],[2021.06,0.80],[2021.09,0.49],[2021.11,0.73],[2021.14,0.55],[2021.17,0.84],[2021.20,0.52],[2021.22,0.81],[2021.25,0.62],
[2021.27,0.73]
];

var tickFont = { family: 'DejaVu Sans', weight: 'bold', size: 75 };
var labelFont = { family: 'DejaVu Sans', weight: 'bold', size: 75 };

// spines + panel caption
var framePlugin = {
  id: 'frame',
  afterDatasetsDraw: function (chart, args, opts) {
    var ctx = chart.ctx, a = chart.chartArea;
    ctx.save();
    ctx.fillStyle = '#000';
    ctx.font = 'bold 83px "DejaVu Sans"';
    ctx.textBaseline = 'alphabetic';
    ctx.textAlign = 'left';
    ctx.fillText(opts.text, a.left + 0.067 * (a.right - a.left), a.top + 0.15 * (a.bottom - a.top));
    ctx.lineWidth = 12.5;
    ctx.strokeStyle = '#000';
    ctx.strokeRect(a.left, a.top, a.right - a.left, a.bottom - a.top);
    ctx.restore();
  }
};

function makePanel(id, series, yTicks, yLabels, yTitle, caption, areaTop, areaBottom, showX) {
  var xH = showX ? 300 : 100;
  return new Chart(document.getElementById(id), {
    type: 'line',
    data: {
      datasets: [{
        data: series.map(function (p) { return { x: p[0], y: p[1] }; }),
        borderColor: '#0000ff',
        borderWidth: 12.5,
        borderJoinStyle: 'round',
        pointRadius: 0,
        tension: 0,
        fill: false,
        clip: 0
      }]
    },
    plugins: [framePlugin],
    options: {
      responsive: false,
      animation: false,
      devicePixelRatio: 1,
      layout: { padding: { left: 0, right: 600, top: areaTop, bottom: 3000 - areaBottom - xH } },
      plugins: {
        legend: { display: false },
        tooltip: { enabled: false },
        frame: { text: caption }
      },
      scales: {
        x: {
          type: 'linear',
          min: 2000,
          max: 2022,
          afterFit: function (s) { s.height = xH; },
          afterBuildTicks: function (s) { s.ticks = xTicks.map(function (v) { return { value: v }; }); },
          ticks: {
            display: showX,
            autoSkip: false,
            maxRotation: 0,
            padding: 2,
            color: '#000',
            font: tickFont,
            callback: function (v, i) { return xTickLabels[i]; }
          },
          grid: { drawOnChartArea: false, drawTicks: true, tickLength: 15, lineWidth: 3.3, color: '#000' },
          border: { display: false },
          title: { display: showX, text: 'Time (Year)', color: '#000', font: labelFont, padding: { top: 0, bottom: 105 } }
        },
        y: {
          type: 'linear',
          min: yTicks[0],
          max: yTicks[yTicks.length - 1],
          afterFit: function (s) { s.width = 750; },
          afterBuildTicks: function (s) { s.ticks = yTicks.map(function (v) { return { value: v }; }); },
          ticks: {
            autoSkip: false,
            padding: 21,
            color: '#000',
            font: tickFont,
            callback: function (v, i) { return yLabels[i]; }
          },
          grid: { drawOnChartArea: false, drawTicks: true, tickLength: 15, lineWidth: 3.3, color: '#000' },
          border: { display: false },
          title: { display: true, text: yTitle, color: '#000', font: labelFont, padding: { top: 396, bottom: 0 } }
        }
      }
    }
  });
}

makePanel('topPanel', focalTemp, tempTicks, tempTickLabels, 'Focal Temperature (C)',
  'Focal Temperature (10 Day Moving Average)', 360, 1470.6, false);
makePanel('bottomPanel', peakWidth, widthTicks, widthTickLabels, 'Width (days)',
  'Peak Width (10 Day Moving Average)', 1559.4, 2670, true);
</script>
</body>
</html>
